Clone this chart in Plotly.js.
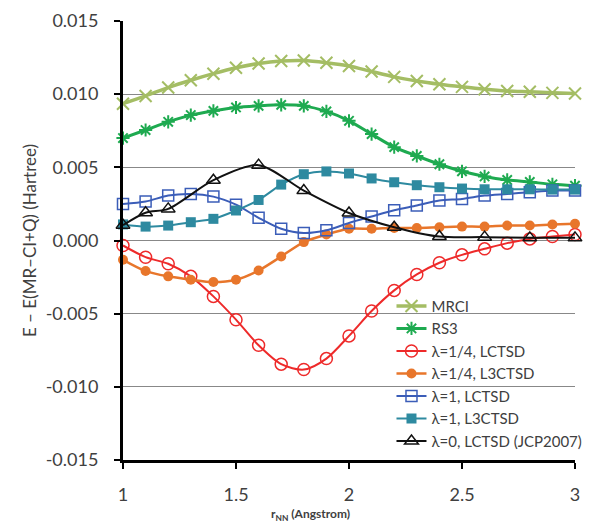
<!DOCTYPE html>
<html>
<head>
<meta charset="utf-8">
<script src="https://cdn.plot.ly/plotly-3.0.1.min.js"></script>
<style>html,body{margin:0;padding:0;background:#fff;}#chart{width:589px;height:524px;}</style>
</head>
<body>
<div id="chart"></div>
<script>
const r = [1.0,1.1,1.2,1.3,1.4,1.5,1.6,1.7,1.8,1.9,2.0,2.1,2.2,2.3,2.4,2.5,2.6,2.7,2.8,2.9,3.0];
const rJCP = [1.0,1.1,1.2,1.4,1.6,1.8,2.0,2.2,2.4,2.6,2.8,3.0];

const mrci = [0.00935,0.00988,0.01045,0.01095,0.01140,0.01180,0.01210,0.01227,0.01230,0.01215,0.01193,0.01155,0.01118,0.01090,0.01068,0.01050,0.01034,0.01022,0.01016,0.01009,0.01004];
const rs3 = [0.00700,0.00755,0.00811,0.00857,0.00886,0.00909,0.00920,0.00927,0.00920,0.00882,0.00818,0.00727,0.00638,0.00578,0.00521,0.00473,0.00438,0.00414,0.00400,0.00384,0.00375];
const lam14_lctsd = [-0.00034,-0.00114,-0.00159,-0.00245,-0.00382,-0.00541,-0.00716,-0.00845,-0.00882,-0.00807,-0.00652,-0.00482,-0.00341,-0.00232,-0.00152,-0.00098,-0.00057,-0.00018,0.00011,0.00027,0.00041];
const lam14_l3ctsd = [-0.00132,-0.00209,-0.00245,-0.00268,-0.00284,-0.00268,-0.00205,-0.00109,-0.00011,0.00041,0.00080,0.00080,0.00086,0.00086,0.00091,0.00095,0.00095,0.00102,0.00102,0.00109,0.00114];
const lam1_lctsd = [0.00250,0.00266,0.00307,0.00318,0.00300,0.00245,0.00155,0.00080,0.00051,0.00070,0.00120,0.00164,0.00207,0.00239,0.00273,0.00284,0.00307,0.00318,0.00330,0.00341,0.00341];
const lam1_l3ctsd = [0.00110,0.00095,0.00102,0.00125,0.00148,0.00205,0.00277,0.00382,0.00453,0.00472,0.00458,0.00424,0.00398,0.00378,0.00364,0.00355,0.00350,0.00350,0.00350,0.00348,0.00348];
const lam0_jcp = [0.00105,0.00190,0.00216,0.00412,0.00515,0.00341,0.00188,0.00091,0.00027,0.00023,0.00018,0.00018];

const yTickVals = [0.015,0.010,0.005,0.000,-0.005,-0.010,-0.015];
const yTickText = ['0.015','0.010','0.005','0.000','-0.005','-0.010','-0.015'];
const xTickVals = [1,1.5,2,2.5,3];
const xTickText = ['1','1.5','2','2.5','3'];

const names = ['MRCI','RS3','λ=1/4, LCTSD','λ=1/4, L3CTSD','λ=1, LCTSD','λ=1, L3CTSD','λ=0, LCTSD (JCP2007)'];
const xTitle = '<b>r<sub>NN</sub> (Angstrom)</b>';
const yTitle = 'E – E(MR–CI+Q) (Hartree)';

function tr(x, y, name, color, symbol, size, lw, mlw) {
  return {
    x: x, y: y, name: name, type: 'scatter', mode: 'lines+markers',
    cliponaxis: false,
    line: {color: color, width: lw, shape: 'spline', smoothing: 0.8},
    marker: {symbol: symbol, size: size, color: color, line: {color: color, width: mlw}}
  };
}

const data = [
  tr(r, mrci, names[0], '#A4BD64', 'x-thin-open', 12, 3.5, 2),
  tr(r, rs3, names[1], '#1EAA50', 'asterisk-open', 11, 3, 2),
  tr(r, lam14_lctsd, names[2], '#EE2A2A', 'circle-open', 12, 2, 1.5),
  tr(r, lam14_l3ctsd, names[3], '#E8762B', 'circle', 10, 2.5, 0),
  tr(r, lam1_lctsd, names[4], '#3B5DB8', 'square-open', 11, 2, 1.5),
  tr(r, lam1_l3ctsd, names[5], '#2E8AA0', 'square', 10, 2, 0),
  tr(rJCP, lam0_jcp, names[6], '#111111', 'triangle-up-open', 12, 2, 1.5)
];

const font = 'Lato, "Open Sans", "DejaVu Sans", sans-serif';

const layout = {
  width: 589, height: 524,
  margin: {l: 123, r: 14, t: 21, b: 64, pad: 0, autoexpand: false},
  paper_bgcolor: '#fff', plot_bgcolor: '#fff',
  font: {family: font, size: 15, color: '#404040'},
  showlegend: true,
  legend: {
    x: 0.594, y: 0.388, xanchor: 'left', yanchor: 'top',
    bgcolor: 'rgba(0,0,0,0)', borderwidth: 0,
    font: {family: font, size: 15, color: '#404040'},
    itemwidth: 30, tracegroupgap: 0
  },
  xaxis: {
    range: [1, 3], tickvals: xTickVals, ticktext: xTickText,
    showgrid: false, zeroline: false,
    showline: true, linecolor: '#000', linewidth: 3,
    ticks: 'outside', ticklen: 6, tickwidth: 2, tickcolor: '#000',
    ticklabelstandoff: 10,
    tickfont: {family: font, size: 18, color: '#404040'}
  },
  yaxis: {
    range: [-0.015, 0.015], tickvals: yTickVals, ticktext: yTickText,
    showgrid: true, gridcolor: '#888', gridwidth: 1,
    zeroline: false,
    showline: true, linecolor: '#000', linewidth: 3,
    ticks: 'outside', ticklen: 6, tickwidth: 2, tickcolor: '#000',
    ticklabelstandoff: 12,
    tickfont: {family: font, size: 18, color: '#404040'},
    title: {text: yTitle, font: {family: font, size: 17, color: '#404040'}, standoff: 5}
  },
  annotations: [{
    text: xTitle, xref: 'paper', yref: 'paper', x: 0.414, y: -0.125,
    xanchor: 'center', yanchor: 'middle', showarrow: false,
    font: {family: font, size: 12, color: '#404040'}
  }]
};

Plotly.newPlot('chart', data, layout, {displayModeBar: false, staticPlot: true});
</script>
</body>
</html>
